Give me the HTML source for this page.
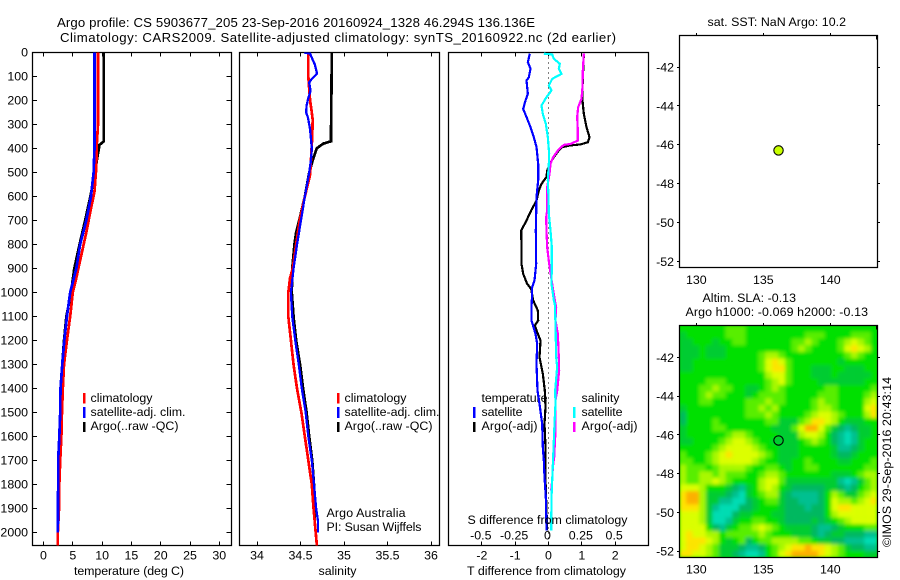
<!DOCTYPE html>
<html lang="en">
<head>
<meta charset="utf-8">
<title>Argo profile chart</title>
<style>
html,body{margin:0;padding:0;background:#fff;}
#chart{display:block;position:absolute;left:0;top:0;}
text{font-family:"Liberation Sans",sans-serif;font-size:12.4px;fill:#000;}
text.big{font-size:13.2px;}
</style>
</head>
<body>
<svg id="chart" width="900" height="580" viewBox="0 0 900 580" xmlns="http://www.w3.org/2000/svg">
  <rect x="0" y="0" width="900" height="580" fill="#fff"/>
  <defs>
    <clipPath id="clip-sla"><rect x="679.5" y="325.5" width="198" height="232"/></clipPath>
    <clipPath id="clip-temp"><rect x="32.5" y="52.5" width="199" height="493"/></clipPath>
    <clipPath id="clip-sal"><rect x="239.5" y="52.5" width="200" height="493"/></clipPath>
    <clipPath id="clip-diff"><rect x="448.5" y="52.5" width="200" height="493"/></clipPath>
    <filter id="soft" x="-5%" y="-5%" width="110%" height="110%"><feGaussianBlur stdDeviation="1.8"/></filter>
  </defs>

  <text class="big" x="57" y="27" textLength="478" lengthAdjust="spacing">Argo profile: CS 5903677_205 23-Sep-2016 20160924_1328 46.294S 136.136E</text>
  <text class="big" x="60" y="42" textLength="556" lengthAdjust="spacing">Climatology: CARS2009. Satellite-adjusted climatology: synTS_20160922.nc (2d earlier)</text>

  <g id="layer-temp"></g>
  <g id="layer-sal"></g>

  <g>
    <text x="481.5" y="402" textLength="66" lengthAdjust="spacing">temperature</text>
    <text x="481.5" y="416" textLength="41" lengthAdjust="spacing">satellite</text>
    <text x="481.5" y="430" textLength="56" lengthAdjust="spacing">Argo(-adj)</text>
    <text x="581.5" y="402" textLength="38" lengthAdjust="spacing">salinity</text>
    <text x="581.5" y="416" textLength="41" lengthAdjust="spacing">satellite</text>
    <text x="581.5" y="430" textLength="56" lengthAdjust="spacing">Argo(-adj)</text>
    <rect x="473" y="407" width="2.5" height="11" fill="#0000ff"/>
    <rect x="473" y="422" width="2.5" height="10" fill="#000"/>
    <rect x="573" y="407" width="2.5" height="11" fill="#00ffff"/>
    <rect x="573" y="422" width="2.5" height="10" fill="#ff00ff"/>
  </g>
  <g id="layer-diff"></g>
  <text x="467.5" y="524" textLength="160" lengthAdjust="spacing">S difference from climatology</text>

  <g>
    <rect x="83" y="393" width="2.5" height="10.5" fill="#ff0000"/>
    <rect x="83" y="407" width="2.5" height="11" fill="#0000ff"/>
    <rect x="83" y="422" width="2.5" height="10" fill="#000"/>
    <text x="90.5" y="402" textLength="62" lengthAdjust="spacing">climatology</text>
    <text x="90.5" y="416" textLength="95" lengthAdjust="spacing">satellite-adj. clim.</text>
    <text x="90.5" y="430" textLength="88" lengthAdjust="spacing">Argo(..raw -QC)</text>
  </g>
  <g>
    <rect x="337" y="393" width="2.5" height="10.5" fill="#ff0000"/>
    <rect x="337" y="407" width="2.5" height="11" fill="#0000ff"/>
    <rect x="337" y="422" width="2.5" height="10" fill="#000"/>
    <text x="344.5" y="402" textLength="62" lengthAdjust="spacing">climatology</text>
    <text x="344.5" y="416" textLength="95" lengthAdjust="spacing">satellite-adj. clim.</text>
    <text x="344.5" y="430" textLength="88" lengthAdjust="spacing">Argo(..raw -QC)</text>
    <text x="326.5" y="517" textLength="79" lengthAdjust="spacing">Argo Australia</text>
    <text x="326.5" y="531" textLength="95" lengthAdjust="spacing">PI: Susan Wijffels</text>
  </g>

  <text x="74" y="575" textLength="110" lengthAdjust="spacing">temperature (deg C)</text>
  <text x="318.5" y="575" textLength="38" lengthAdjust="spacing">salinity</text>
  <text x="467" y="575" textLength="159" lengthAdjust="spacing">T difference from climatology</text>

  <text x="707.5" y="26" textLength="138.500" lengthAdjust="spacing">sat. SST: NaN Argo: 10.2</text>
  <text x="702.5" y="302" textLength="93.500" lengthAdjust="spacing">Altim. SLA: -0.13</text>
  <text x="685.5" y="316" textLength="182.500" lengthAdjust="spacing">Argo h1000: -0.069 h2000: -0.13</text>

  <g id="layer-map-sst"></g>
  <g id="layer-map-sla"></g>
  <rect x="876" y="36" width="1.5" height="3.5" fill="#000"/>
  <rect x="876" y="326" width="1.5" height="3.5" fill="#000"/>

  <text transform="translate(891,547) rotate(-90)" textLength="170" lengthAdjust="spacing">©IMOS 29-Sep-2016 20:43:14</text>
</svg>

<script>
// ---------- tick labels ----------
var depthTicks = [0,100,200,300,400,500,600,700,800,900,1000,1100,1200,1300,1400,1500,1600,1700,1800,1900,2000];
var tempTicks = [0,5,10,15,20,25,30];
var salTicks = [34,34.5,35,35.5,36];
var tDiffTicks = [-2,-1,0,1,2];
var sDiffTicks = [-0.5,-0.25,0,0.25,0.5];
var lonTicks = [130,135,140];
var latTicks = [-42,-44,-46,-48,-50,-52];

// ---------- temperature profiles ----------
var tempClimDepth = [0,300,380,480,580,650,750,850,950,1000,1100,1200,1300,1400,1500,1600,1700,1800,1900,2000,2060];
var tempClimValue = [9.3,9.3,9.1,9.0,8.7,8.1,7.3,6.4,5.5,5.0,4.55,4.0,3.5,3.3,3.15,3.05,2.85,2.7,2.65,2.45,2.45];
var tempSatDepth = [0,100,300,400,500,600,700,800,900,1000,1100,1200,1300,1400,1500,1600,1700,1800,2000];
var tempSatValue = [8.7,8.7,8.7,8.7,8.55,8.1,7.3,6.25,5.6,4.55,4.0,3.55,3.2,2.9,2.85,2.7,2.5,2.5,2.45];
var tempArgoDepth = [0,370,385,450,500,600,700,800,900,1000,1100,1200,1300,1400,1500,1600,1700,1800,1950];
var tempArgoValue = [10.3,10.3,9.55,9.1,8.8,8.0,7.1,6.15,5.25,4.7,3.9,3.5,3.2,3.0,2.85,2.85,2.6,2.5,2.5];

// ---------- salinity profiles ----------
var salClimDepth = [0,100,200,250,280,350,450,510,600,700,800,900,940,1000,1100,1200,1300,1400,1500,1600,1700,1800,1900,2000,2060];
var salClimValue = [34.59,34.59,34.61,34.63,34.64,34.635,34.62,34.61,34.55,34.49,34.45,34.41,34.38,34.36,34.36,34.39,34.42,34.46,34.51,34.55,34.59,34.63,34.65,34.675,34.69];
var salSatDepth = [0,5,30,50,80,90,110,125,160,190,220,250,270,320,400,450,500,600,700,800,900,1000,1100,1200,1300,1400,1500,1600,1700,1800,1900,1950,2000];
var salSatValue = [34.54,34.61,34.64,34.665,34.685,34.685,34.63,34.60,34.615,34.59,34.57,34.565,34.585,34.61,34.63,34.62,34.60,34.55,34.505,34.46,34.42,34.39,34.405,34.44,34.48,34.515,34.56,34.59,34.63,34.655,34.68,34.70,34.70];
var salArgoDepth = [0,370,380,400,450,500,600,700,750,800,900,1000,1100,1200,1300,1400,1500,1600,1700,1800,1900,1940];
var salArgoValue = [34.86,34.85,34.76,34.685,34.64,34.60,34.55,34.485,34.45,34.43,34.405,34.40,34.42,34.45,34.495,34.53,34.57,34.60,34.635,34.655,34.66,34.66];

// ---------- difference profiles ----------
var tDiffSatDepth = [5,40,68,103,117,172,200,235,269,311,353,394,464,533,603,742,881,950,978,1033,1061,1117,1172,1214,1297,1409,1464,1547,1645,1700,1770,1853,1992];
var tDiffSatValue = [-0.56,-0.62,-0.54,-0.59,-0.66,-0.62,-0.69,-0.76,-0.66,-0.54,-0.44,-0.36,-0.31,-0.31,-0.36,-0.38,-0.37,-0.42,-0.49,-0.50,-0.51,-0.51,-0.39,-0.34,-0.36,-0.33,-0.27,-0.19,-0.17,-0.14,-0.12,-0.08,-0.06];
var tDiffArgoDepth = [5,186,256,311,353,374,383,387,394,408,436,464,492,519,547,575,617,658,700,742,811,881,922,964,985,1033,1075,1117,1138,1172,1200,1270,1339,1409,1478,1547,1645,1780,1992];
var tDiffArgoValue = [1.06,1.01,1.06,1.14,1.23,1.18,0.96,0.66,0.41,0.31,0.16,0.04,-0.04,-0.06,-0.21,-0.29,-0.36,-0.52,-0.66,-0.82,-0.81,-0.81,-0.76,-0.64,-0.52,-0.46,-0.32,-0.31,-0.41,-0.32,-0.24,-0.27,-0.17,-0.11,-0.09,-0.12,-0.09,-0.09,-0.04];
var sDiffSatDepth = [5,8,26,47,68,89,110,138,158,186,221,256,297,353,422,464,533,603,672,742,811,881,964,1033,1048,1131,1270,1311,1409,1464,1547,1686,1784,1853,1992];
var sDiffSatValue = [-0.035,0.0275,0.04,0.085,0.0775,0.0975,0.0275,0.0025,0.0225,-0.015,-0.0525,-0.0425,-0.02,-0.005,0.005,0.0025,-0.005,0,0.0025,0.015,0.025,0.025,0.0225,0.04,0.0475,0.0525,0.0575,0.065,0.05,0.0525,0.045,0.035,0.0275,0.0225,0.02];
var sDiffArgoDepth = [5,75,144,193,228,269,325,367,381,385,403,436,464,506,561,589,658,686,742,811,881,964,1033,1061,1117,1172,1270,1325,1409,1450,1547,1603,1686,1728,1784,1825];
var sDiffArgoValue = [0.265,0.2575,0.255,0.2475,0.2225,0.215,0.22,0.22,0.165,0.115,0.0775,0.035,0.015,0.0075,-0.01,-0.01,-0.01,-0.0175,-0.015,-0.01,0.005,0.0275,0.0475,0.0575,0.0525,0.07,0.0775,0.08,0.065,0.0525,0.0525,0.05,0.0425,0.0325,0.0275,0.02];

// ---------- float position ----------
var floatLon = [136.136];
var floatLat = [-46.294];

// ---------- sea level anomaly cells: level 0 (low) to 9 (high), one string per row, north to south ----------
var slaLevels = [
"44444 44555 44444 44444 44444 44444",
"34444 44555 44444 44445 55444 45554",
"33444 34455 44444 44556 54445 67654",
"33343 33444 44444 44565 44445 78764",
"33343 33444 44566 54444 44444 56544",
"33444 44444 44578 75444 44443 44444",
"33444 44444 44578 85444 33344 33344",
"44444 44444 44467 75444 33343 33334",
"44445 55444 44456 75444 43333 33344",
"44455 65544 33456 54444 44554 44445",
"44456 55444 34555 54444 45554 44456",
"44455 44444 55565 54444 56554 44467",
"34444 44444 55656 44444 56654 44478",
"24444 44444 55565 44445 67765 44468",
"24444 54444 44455 33356 88764 33344",
"34444 55444 44443 33579 97532 12334",
"34444 44566 54444 33367 76421 01334",
"33444 45677 65443 33345 65421 01344",
"44444 56777 76544 33344 44431 12344",
"54445 67877 77654 33344 44432 23444",
"55445 67777 76544 33445 44443 34445",
"65554 56666 54455 43445 54444 44455",
"65566 56555 44566 54444 44433 34566",
"65566 76544 44677 53333 33331 01356",
"77764 44321 34676 43222 22332 12456",
"89963 33210 34566 32111 12465 33567",
"89963 31100 23455 32211 12476 65678",
"88863 10002 23444 32221 22478 87777",
"77763 00023 34443 32222 22467 77777",
"77763 00134 45544 32222 32345 67777",
"77774 21345 56765 43333 21123 44455",
"78776 64555 55654 44333 21233 22211",
"78887 64345 24556 66655 43322 11100",
"78876 53332 11245 67889 88765 32211",
"88776 53321 00145 78999 98765 44433"
];
var slaPalette = ["#00dcb4","#00c090","#00b860","#00cc30","#00e000","#58ee00","#a8f800","#dcff00","#ffe400","#ffb000"];

// ---------- axis functions ----------
function yDepth(d){ return 52.5 + 0.24*d; }
function xTemp(v){ return 43.5 + 5.86*v; }
function xSal(v){ return 257 + 87*(v-34); }
function xTDiff(v){ return 548.5 + 33.33*v; }
function xSDiff(v){ return 548.5 + 133.33*v; }
function xLon(v){ return 696.3 + 13.4*(v-130); }
function ySst(v){ return 67 + 19.43*(-42-v); }
function ySla(v){ return 357.3 + 19.37*(-42-v); }
function snap(p){ return Math.floor(p)+0.5; }

var NS = 'http://www.w3.org/2000/svg';
var layerTemp = document.getElementById('layer-temp');
var layerSal = document.getElementById('layer-sal');
var layerDiff = document.getElementById('layer-diff');
var layerSst = document.getElementById('layer-map-sst');
var layerSla = document.getElementById('layer-map-sla');

function makeFrame(parent,l,t,r,b){
  var el = document.createElementNS(NS,'rect');
  el.setAttribute('x',l); el.setAttribute('y',t);
  el.setAttribute('width',r-l); el.setAttribute('height',b-t);
  el.setAttribute('fill','none'); el.setAttribute('stroke','#000'); el.setAttribute('stroke-width','1.25');
  
  
  parent.appendChild(el);
}
function makeTick(parent,x1,y1,x2,y2){
  var el = document.createElementNS(NS,'line');
  el.setAttribute('x1',x1===x2?snap(x1):x1); el.setAttribute('y1',y1===y2?snap(y1):y1);
  el.setAttribute('x2',x1===x2?snap(x2):x2); el.setAttribute('y2',y1===y2?snap(y2):y2);
  el.setAttribute('stroke','#000'); el.setAttribute('stroke-width','1');
  
  
  parent.appendChild(el);
}
function makeLabel(parent,x,y,anchor,str){
  var el = document.createElementNS(NS,'text');
  el.setAttribute('x',x); el.setAttribute('y',y); el.setAttribute('text-anchor',anchor);
  el.textContent = str;
  
  
  parent.appendChild(el);
}
function makeProfile(parent,clip,depths,values,xFn,color,width){
  var pts = [];
  for (var i=0;i<depths.length;i++){
    pts.push(xFn(values[i]).toFixed(2)+','+yDepth(depths[i]).toFixed(2));
  }
  var el = document.createElementNS(NS,'polyline');
  el.setAttribute('points',pts.join(' '));
  el.setAttribute('fill','none');
  el.setAttribute('stroke',color);
  el.setAttribute('stroke-width',width);
  el.setAttribute('clip-path','url(#'+clip+')');
  el.setAttribute('shape-rendering','crispEdges');
  parent.appendChild(el);
  return el;
}

// temperature panel
makeFrame(layerTemp,32.5,52.5,231.5,545.5);
tempTicks.forEach(function(v){
  makeTick(layerTemp,xTemp(v),52.5,xTemp(v),56.5);
  makeTick(layerTemp,xTemp(v),545.5,xTemp(v),541.5);
  makeLabel(layerTemp,xTemp(v),559.5,'middle',String(v));
});
depthTicks.forEach(function(v){
  makeTick(layerTemp,231.5,yDepth(v),226.5,yDepth(v));
  makeTick(layerTemp,32.5,yDepth(v),37,yDepth(v));
  makeLabel(layerTemp,28,yDepth(v)+4,'end',String(v));
});
var lineA = makeProfile(layerTemp,'clip-temp',tempArgoDepth,tempArgoValue,xTemp,'#000','2.7');


var lineB = makeProfile(layerTemp,'clip-temp',tempClimDepth,tempClimValue,xTemp,'#ff0000','2.7');


var lineC = makeProfile(layerTemp,'clip-temp',tempSatDepth,tempSatValue,xTemp,'#0000ff','2.7');



// salinity panel
makeFrame(layerSal,239.5,52.5,439.5,545.5);
salTicks.forEach(function(v){
  makeTick(layerSal,xSal(v),52.5,xSal(v),56.5);
  makeTick(layerSal,xSal(v),545.5,xSal(v),541.5);
  makeLabel(layerSal,xSal(v),559.5,'middle',String(v));
});
var lineD = makeProfile(layerSal,'clip-sal',salArgoDepth,salArgoValue,xSal,'#000','2.7');


var lineE = makeProfile(layerSal,'clip-sal',salClimDepth,salClimValue,xSal,'#ff0000','2.7');


var lineF = makeProfile(layerSal,'clip-sal',salSatDepth,salSatValue,xSal,'#0000ff','2.3');



// difference panel
makeFrame(layerDiff,448.5,52.5,648.5,545.5);
tDiffTicks.forEach(function(v){
  makeTick(layerDiff,xTDiff(v),52.5,xTDiff(v),56.5);
  makeTick(layerDiff,xTDiff(v),545.5,xTDiff(v),541.5);
  makeLabel(layerDiff,xTDiff(v),559.5,'middle',String(v));
});
sDiffTicks.forEach(function(v){
  makeLabel(layerDiff,xSDiff(v)-1,539.5,'middle',String(v));
});
var zeroLine = document.createElementNS(NS,'line');
zeroLine.setAttribute('x1',xTDiff(0)); zeroLine.setAttribute('x2',xTDiff(0));
zeroLine.setAttribute('y1',52.5); zeroLine.setAttribute('y2',545.5);
zeroLine.setAttribute('stroke','#000'); zeroLine.setAttribute('stroke-width','1');
zeroLine.setAttribute('stroke-dasharray','1 4');


layerDiff.appendChild(zeroLine);
var lineG = makeProfile(layerDiff,'clip-diff',tDiffArgoDepth,tDiffArgoValue,xTDiff,'#000','2.2');


var lineH = makeProfile(layerDiff,'clip-diff',sDiffArgoDepth,sDiffArgoValue,xSDiff,'#ff00ff','2.2');


var lineI = makeProfile(layerDiff,'clip-diff',tDiffSatDepth,tDiffSatValue,xTDiff,'#0000ff','2.2');


var lineJ = makeProfile(layerDiff,'clip-diff',sDiffSatDepth,sDiffSatValue,xSDiff,'#00ffff','2.2');



// SST map
makeFrame(layerSst,679.5,35.5,877.5,267.5);
lonTicks.forEach(function(v){
  makeTick(layerSst,xLon(v),35.5,xLon(v),33);
  makeLabel(layerSst,xLon(v),284,'middle',String(v));
});
latTicks.forEach(function(v){
  makeTick(layerSst,679.5,ySst(v),677,ySst(v));
  makeTick(layerSst,877.5,ySst(v),880,ySst(v));
  makeLabel(layerSst,674,ySst(v)+4.5,'end',String(v));
});
var sstDot = document.createElementNS(NS,'circle');
sstDot.setAttribute('cx',xLon(floatLon[0]));
sstDot.setAttribute('cy',ySst(floatLat[0]));
sstDot.setAttribute('r','4.7');
sstDot.setAttribute('fill','#c8ff00');
sstDot.setAttribute('stroke','#000');
sstDot.setAttribute('stroke-width','1.1');


layerSst.appendChild(sstDot);

// SLA map
var slaBase = document.createElementNS(NS,'rect');
slaBase.setAttribute('x',679.5); slaBase.setAttribute('y',325.5);
slaBase.setAttribute('width',198); slaBase.setAttribute('height',232);
slaBase.setAttribute('fill',slaPalette[4]);


layerSla.appendChild(slaBase);
var slaClip = document.createElementNS(NS,'g');
slaClip.setAttribute('clip-path','url(#clip-sla)');


layerSla.appendChild(slaClip);
var slaCells = document.createElementNS(NS,'g');
slaCells.setAttribute('filter','url(#soft)');


slaClip.appendChild(slaCells);
var slaRows = slaLevels.length;
var cellH = 232/slaRows;
var cellW = 198/30;
slaLevels.forEach(function(rowStr,r){
  var chars = rowStr.replace(/ /g,'');
  for (var c=0;c<chars.length;c++){
    var cell = document.createElementNS(NS,'rect');
    cell.setAttribute('x',(679.5+c*cellW-0.1).toFixed(2));
    cell.setAttribute('y',(325.5+r*cellH-0.1).toFixed(2));
    cell.setAttribute('width',(cellW+0.2).toFixed(2));
    cell.setAttribute('height',(cellH+0.2).toFixed(2));
    cell.setAttribute('fill',slaPalette[+chars.charAt(c)]);
    
    
    slaCells.appendChild(cell);
  }
});
makeFrame(layerSla,679.5,325.5,877.5,557.5);
lonTicks.forEach(function(v){
  makeTick(layerSla,xLon(v),325.5,xLon(v),323);
  makeLabel(layerSla,xLon(v),573.5,'middle',String(v));
});
latTicks.forEach(function(v){
  makeTick(layerSla,679.5,ySla(v),677,ySla(v));
  makeTick(layerSla,877.5,ySla(v),880,ySla(v));
  makeLabel(layerSla,674,ySla(v)+4.5,'end',String(v));
});
var slaDot = document.createElementNS(NS,'circle');
slaDot.setAttribute('cx',xLon(floatLon[0]));
slaDot.setAttribute('cy',ySla(floatLat[0]));
slaDot.setAttribute('r','4.7');
slaDot.setAttribute('fill','none');
slaDot.setAttribute('stroke','#000');
slaDot.setAttribute('stroke-width','1.1');


layerSla.appendChild(slaDot);
</script>
</body>
</html>
